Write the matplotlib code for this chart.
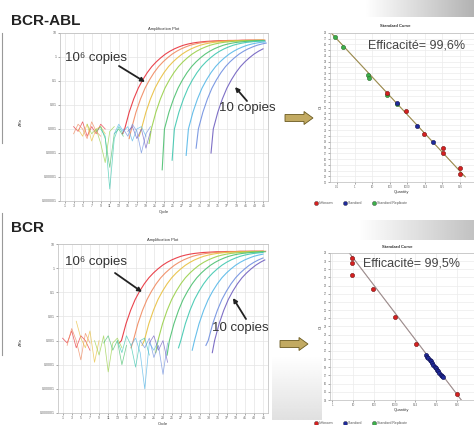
import numpy as np
import matplotlib.pyplot as plt
from matplotlib.patches import FancyArrow

plt.rcParams['font.family'] = ['Liberation Sans', 'DejaVu Sans']

W, H = 474, 425

# ---- amplification plots ----
curve_colors = ['#e8303a', '#f08a60', '#e8c040', '#9ad04a', '#4cc070',
                '#40c8b0', '#58b8e8', '#7090e0', '#7060c0']
# cycle where log10(dRn) crosses -1, one per well
ct_abl = [18.4, 19.9, 22.1, 24.3, 27.2, 29.4, 32.5, 34.7, 38.0]
ct_bcr = [18.0, 20.6, 23.0, 26.0, 28.5, 31.0, 34.0, 37.0, 38.4]
rise = [-3.0, -2.3, -1.75, -1.3, -0.95, -0.65, -0.4, -0.2, -0.03, 0.12, 0.24,
        0.34, 0.42, 0.49, 0.54, 0.58, 0.61, 0.63, 0.65, 0.66, 0.67, 0.68, 0.68,
        0.69, 0.69, 0.69, 0.70, 0.70, 0.70, 0.70, 0.70, 0.70]
dip_abl = [-3.2, -3.4, -3.3, -3.6, -4.7, -4.3, -4.1, -3.8, -4.0]
dip_bcr = [-3.1, -3.3, -3.2, -3.5, -3.6, -3.3, -3.4, -3.2, -3.5]

# baseline noise, log10(dRn), first cycle then values
noise_start_abl = [3, 3, 4, 6, 8, 9, 12, 14, 15]
noise_abl = [
    [-2.9, -3.1, -2.7, -3.3, -2.9, -3.2, -2.8, -3.0],
    [-3.2, -2.8, -3.0, -3.4, -2.7, -3.1, -3.3],
    [-3.0, -3.3, -2.8, -3.5, -3.0, -2.9, -3.2],
    [-2.8, -3.2, -3.0, -3.6, -4.4, -3.1, -2.9],
    [-3.1, -2.9, -3.4, -4.6, -3.2, -3.0, -3.3],
    [-3.0, -3.3, -5.5, -3.4, -2.9, -3.2],
    [-3.2, -2.8, -3.1, -2.9, -3.5, -3.0, -2.9, -3.3],
    [-3.0, -3.3, -2.8, -3.1, -4.0, -3.2, -2.9],
    [-3.1, -2.9, -3.4, -3.0, -3.8, -3.1],
]
noise_start_bcr = [1, 2, 4, 8, 10, 13, 16, 18, 20]
noise_bcr = [
    [-2.9, -3.1, -2.6, -3.3, -2.8, -3.0, -3.4],
    [-3.2, -2.5, -3.0, -3.8, -2.7, -3.1],
    [-2.2, -2.9, -3.3, -2.6, -3.9, -3.0],
    [-3.0, -3.6, -2.8, -4.3, -3.1, -2.9, -3.3],
    [-3.1, -2.8, -3.4, -3.0, -4.0, -3.2],
    [-3.0, -3.5, -2.8, -3.2, -4.1, -3.0, -2.9, -3.6],
    [-3.2, -2.9, -3.5, -5.0, -3.1, -3.4, -3.0],
    [-3.0, -3.3, -2.9, -3.7, -3.2, -4.4, -3.1],
    [-3.1, -2.8, -3.4, -3.0, -3.9],
]
amp_yticks = [1e-6, 1e-5, 1e-4, 1e-3, 1e-2, 1e-1, 1, 10]
amp_ylabels = ['0.000001', '0.00001', '0.0001', '0.001', '0.01', '0.1', '1', '10']
amp_xticks = list(range(1, 46, 2))

# ---- standard curves (log10 quantity, Ct) ----
abl_unknown_q = [1.85, 2.93, 3.95, 5.03, 5.03, 6.0, 6.0]
abl_unknown_ct = [27.5, 24.4, 20.4, 17.9, 17.1, 14.4, 13.4]
abl_std_q = [2.42, 3.55, 4.47]
abl_std_ct = [25.8, 21.8, 19.0]
abl_rep_q = [-1.12, -0.66, 0.76, 0.80, 1.85, 2.42]
abl_rep_ct = [37.3, 35.6, 30.7, 30.1, 27.1, 25.6]
abl_fit_q = [-1.3, 6.3]
abl_fit_ct = [37.9, 12.9]

bcr_unknown_q = [0.96, 0.96, 0.96, 1.97, 3.0, 4.03, 6.0]
bcr_unknown_ct = [31.4, 30.8, 29.3, 27.6, 24.2, 20.9, 14.7]
bcr_std_q = [4.50, 4.57, 4.62, 4.69, 4.74, 4.81, 4.86, 4.93, 4.98, 5.04,
             5.11, 5.16, 5.22, 5.27, 5.33]
bcr_std_ct = [19.5, 19.3, 19.1, 18.9, 18.8, 18.5, 18.3, 18.1, 17.9, 17.7,
              17.5, 17.3, 17.1, 16.9, 16.8]
bcr_fit_q = [0.8, 6.3]
bcr_fit_ct = [32.1, 13.7]

std_xlabels = ['0.1', '1', '10', '100', '1000', '1E4', '1E5', '1E6']
legend_labels = ['Unknown', 'Standard', 'Standard Replicate']
legend_colors = ['#d62020', '#1f2a9a', '#3cb04a']


def px_axes(fig, l, t, r, b, **kw):
    return fig.add_axes([l / W, 1 - b / H, (r - l) / W, (b - t) / H], **kw)


def draw_amp(ax, cts, dips, nstart, noise):
    for i, c in enumerate(curve_colors):
        xs = np.arange(nstart[i], nstart[i] + len(noise[i]))
        ax.plot(xs, 10 ** np.array(noise[i]), color=c, lw=0.55, alpha=0.75)
        onset = cts[i] - 4.1
        n = int(np.floor(45.6 - onset)) + 1
        xr = [onset - 0.5] + list(onset + np.arange(n))
        yr = [dips[i]] + rise[:n]
        ax.plot(xr, 10 ** np.array(yr), color=c, lw=0.8, alpha=0.9)
    ax.set_yscale('log')
    ax.set_yticks(amp_yticks)
    ax.set_yticklabels(amp_ylabels)
    ax.minorticks_off()
    ax.set_xticks(amp_xticks)
    ax.set_ylim(1e-6, 10)
    ax.set_xlim(0, 46)
    ax.tick_params(labelsize=2.5, length=1.5, width=0.4, colors='#666', pad=1)
    ax.grid(True, color='#e4e4e4', lw=0.5)
    for s in ax.spines.values():
        s.set_color('#bbb')
        s.set_linewidth(0.5)
    ax.set_title('Amplification Plot', fontsize=3, pad=2, color='#333')
    ax.set_xlabel('Cycle', fontsize=3, labelpad=1, color='#333')


def draw_std(ax, uq, uct, sq, sct, rq, rct, fq, fct, xlim, ylim, line2):
    ax.plot(fq, fct, color='#e05050', lw=0.7, zorder=2)
    ax.plot(fq, fct, color=line2, lw=0.7, alpha=0.55, zorder=2)
    ax.scatter(rq, rct, s=9, c=legend_colors[2], edgecolors='#2a6a2a', linewidths=0.4, zorder=3)
    ax.scatter(sq, sct, s=9, c=legend_colors[1], edgecolors='#101050', linewidths=0.4, zorder=3)
    ax.scatter(uq, uct, s=9, c=legend_colors[0], edgecolors='#701010', linewidths=0.4, zorder=3)
    ax.set_xticks(range(-1, 7))
    ax.set_xticklabels(std_xlabels)
    ax.set_yticks(range(int(ylim[0]), int(ylim[1]) + 1))
    ax.set_xlim(*xlim)
    ax.set_ylim(*ylim)
    ax.tick_params(labelsize=2, length=1.2, width=0.4, colors='#666', pad=1)
    ax.grid(True, color='#ececec', lw=0.5)
    for s in ax.spines.values():
        s.set_color('#bbb')
        s.set_linewidth(0.5)
    ax.set_xlabel('Quantity', fontsize=3, labelpad=1, color='#333')


fig = plt.figure(figsize=(W / 100, H / 100), dpi=100)

# background gradients
bg = fig.add_axes([0, 0, 1, 1], zorder=-10)
bg.set_xlim(0, W)
bg.set_ylim(H, 0)
bg.axis('off')
grad = np.linspace(1.0, 0.7, 200)[None, :]
bg.imshow(np.repeat(grad, 10, axis=0), cmap='gray', vmin=0, vmax=1,
          extent=(365, W, 17, 0), aspect='auto')
bg.imshow(np.repeat(np.linspace(1.0, 0.76, 200)[None, :], 10, axis=0), cmap='gray',
          vmin=0, vmax=1, extent=(358, W, 240, 220), aspect='auto')
corner = np.linspace(1.0, 0.88, 60)[:, None] * np.ones((1, 40))
bg.imshow(corner, cmap='gray', vmin=0, vmax=1,
          extent=(272, 322, 420, 355), aspect='auto')
bg.plot([2, 2], [33, 143], color='#999', lw=0.8)
bg.plot([2, 2], [213, 355], color='#999', lw=0.8)

ax1 = px_axes(fig, 60, 33, 268, 201)
draw_amp(ax1, ct_abl, dip_abl, noise_start_abl, noise_abl)
ax2 = px_axes(fig, 58, 244, 268, 413)
draw_amp(ax2, ct_bcr, dip_bcr, noise_start_bcr, noise_bcr)

ax3 = px_axes(fig, 330, 33, 474, 182)
draw_std(ax3, abl_unknown_q, abl_unknown_ct, abl_std_q, abl_std_ct,
         abl_rep_q, abl_rep_ct, abl_fit_q, abl_fit_ct, (-1.4, 6.8), (12, 38), '#50d050')
ax4 = px_axes(fig, 330, 253, 474, 400)
draw_std(ax4, bcr_unknown_q, bcr_unknown_ct, bcr_std_q, bcr_std_ct,
         [], [], bcr_fit_q, bcr_fit_ct, (-0.1, 6.82), (14, 32), '#50d0d0')

# overlay for labels and arrows
ov = fig.add_axes([0, 0, 1, 1], zorder=10)
ov.set_xlim(0, W)
ov.set_ylim(H, 0)
ov.axis('off')
ov.patch.set_alpha(0)

ov.text(11, 21, 'BCR-ABL', fontsize=11, fontweight='bold', va='center', color='#222')
ov.text(11, 228, 'BCR', fontsize=11, fontweight='bold', va='center', color='#222')
ov.text(21, 122, 'ΔRn', fontsize=3, rotation=90, ha='center', va='center', color='#333')
ov.text(21, 342, 'ΔRn', fontsize=3, rotation=90, ha='center', va='center', color='#333')
ov.text(321, 107, 'Ct', fontsize=3, rotation=90, ha='center', va='center', color='#333')
ov.text(321, 327, 'Ct', fontsize=3, rotation=90, ha='center', va='center', color='#333')
ov.text(395, 26, 'Standard Curve', fontsize=3, ha='center', va='center',
        fontweight='bold', color='#333')
ov.text(397, 247, 'Standard Curve', fontsize=3, ha='center', va='center',
        fontweight='bold', color='#333')

ann = dict(fontsize=9.5, color='#333', va='center')
arr = dict(arrowstyle='-|>', color='#222', lw=1.3, mutation_scale=6, shrinkA=0, shrinkB=0)
ov.text(65, 58, '10⁶ copies', **ann)
ov.annotate('', xy=(145, 82), xytext=(119, 66), arrowprops=arr)
ov.text(219, 108, '10 copies', **ann)
ov.annotate('', xy=(235, 87), xytext=(247, 101), arrowprops=arr)
ov.text(65, 262, '10⁶ copies', **ann)
ov.annotate('', xy=(142, 292), xytext=(115, 273), arrowprops=arr)
ov.text(212, 328, '10 copies', **ann)
ov.annotate('', xy=(233, 298), xytext=(246, 319), arrowprops=arr)

ov.text(368, 45, 'Efficacité= 99,6%', fontsize=9, color='#444', va='center')
ov.text(363, 264, 'Efficacité= 99,5%', fontsize=9, color='#444', va='center')

for x0, y0 in [(285, 118), (280, 344)]:
    ov.add_patch(FancyArrow(x0, y0, 28, 0, width=7, head_width=13, head_length=9,
                            length_includes_head=True, fc='#c2aa62', ec='#6a5a20', lw=0.6))

for ly in [203, 423]:
    lx = 316
    for lab, col in zip(legend_labels, legend_colors):
        ov.plot(lx, ly, 'o', ms=3, color=col, mec='#444', mew=0.3)
        ov.text(lx + 3, ly, lab, fontsize=2.5, va='center', color='#555')
        lx += 29

fig.savefig('out.png', dpi=100)
